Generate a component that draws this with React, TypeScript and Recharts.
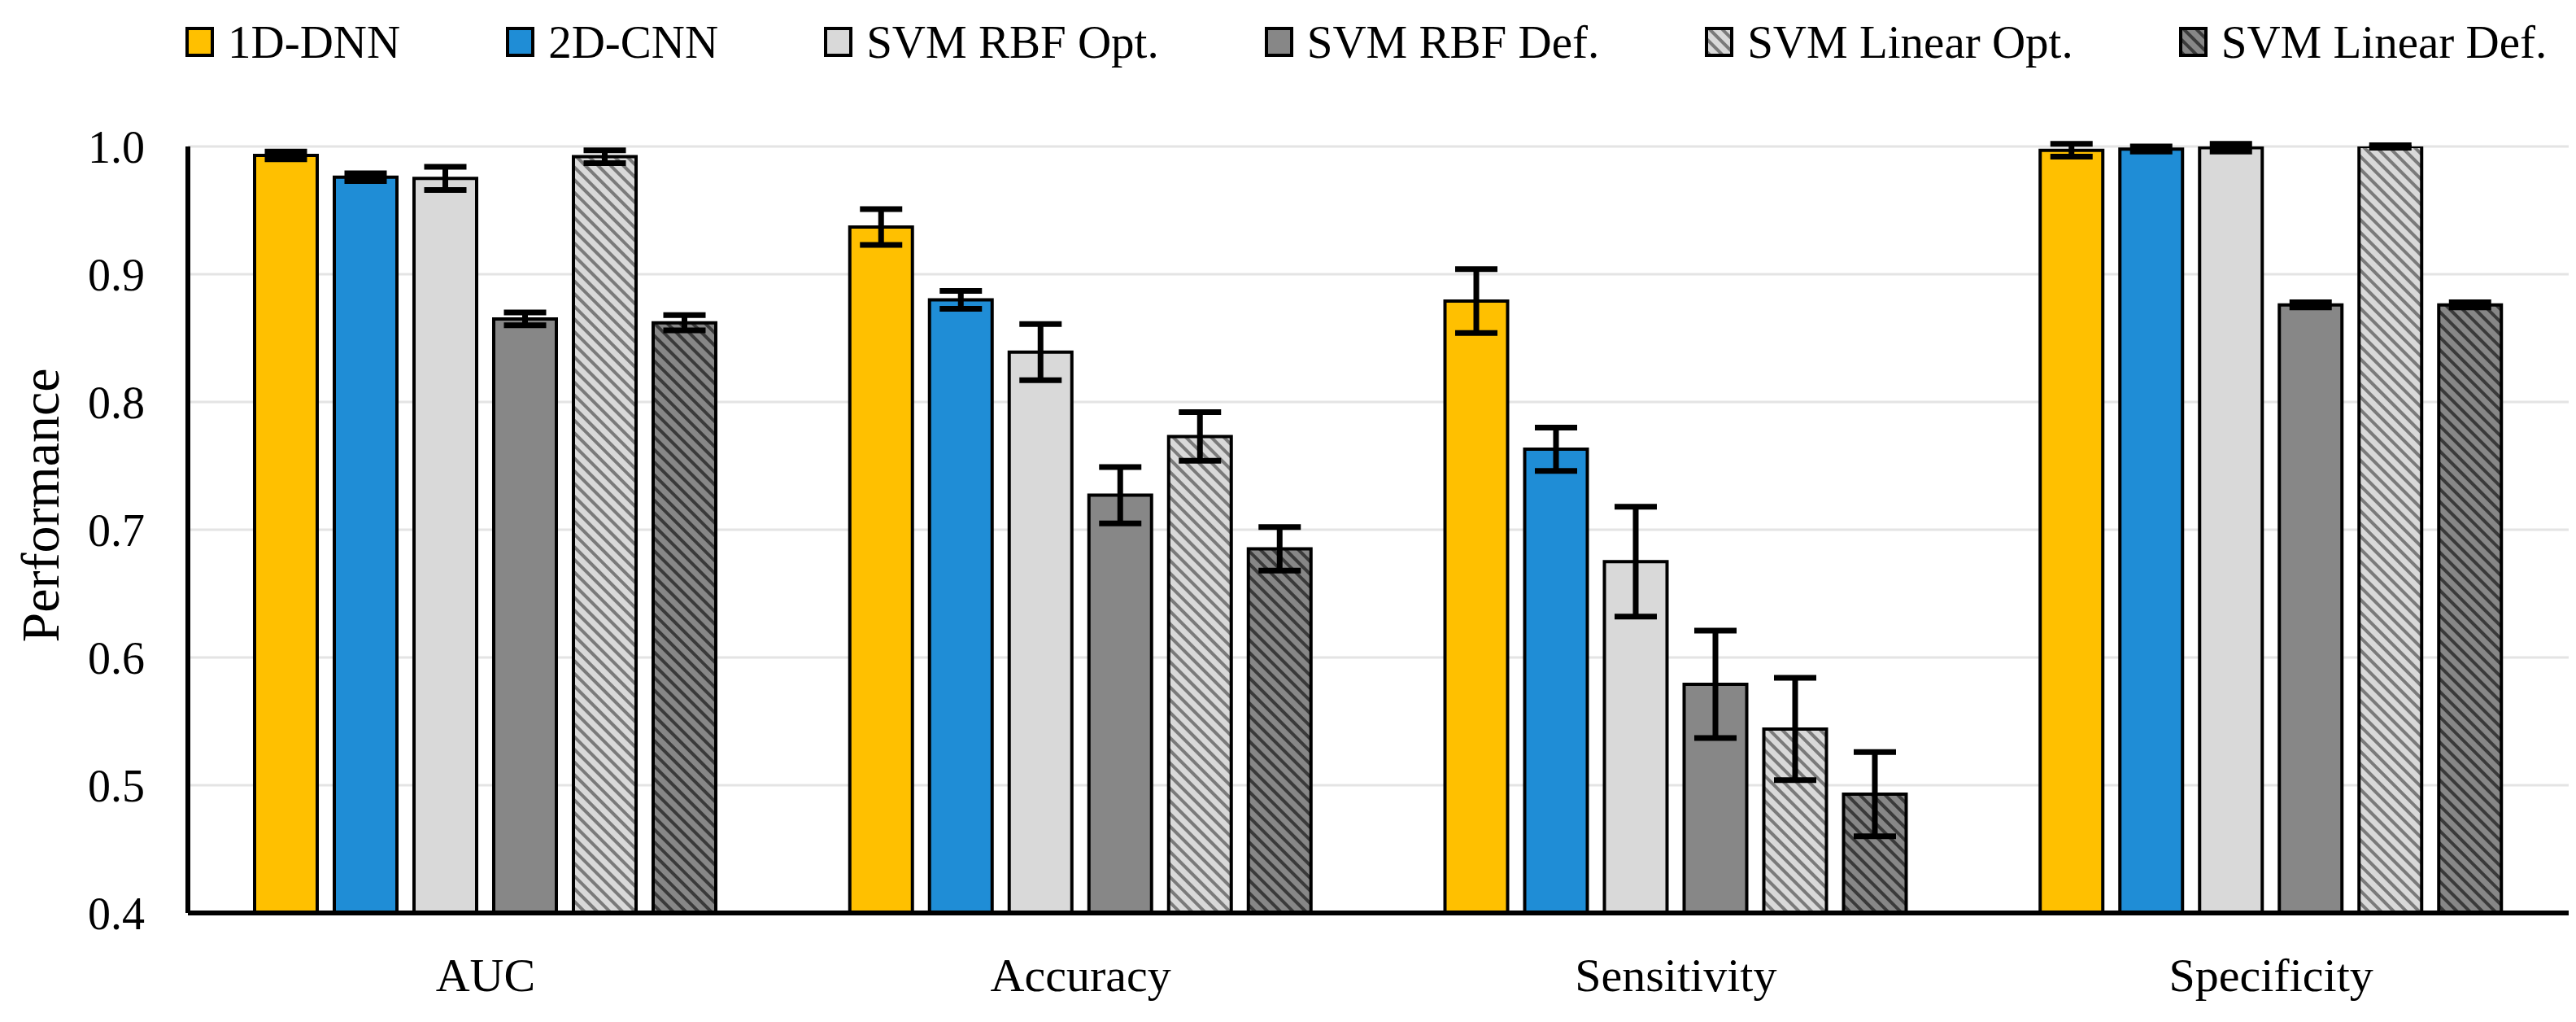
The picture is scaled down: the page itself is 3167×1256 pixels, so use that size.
import React from 'react';
import { BarChart, Bar, XAxis, YAxis, CartesianGrid, ErrorBar, Legend } from 'recharts';

const categories = ['AUC', 'Accuracy', 'Sensitivity', 'Specificity'];
const seriesNames = ['1D-DNN', '2D-CNN', 'SVM RBF Opt.', 'SVM RBF Def.', 'SVM Linear Opt.', 'SVM Linear Def.'];

const dnn = [0.993, 0.937, 0.879, 0.997];
const dnnErr = [0.003, 0.014, 0.025, 0.005];
const cnn = [0.976, 0.880, 0.763, 0.998];
const cnnErr = [0.003, 0.007, 0.017, 0.002];
const rbfOpt = [0.975, 0.839, 0.675, 0.999];
const rbfOptErr = [0.009, 0.022, 0.043, 0.003];
const rbfDef = [0.865, 0.727, 0.579, 0.876];
const rbfDefErr = [0.005, 0.022, 0.042, 0.002];
const linOpt = [0.992, 0.773, 0.544, 1.0];
const linOptErr = [0.005, 0.019, 0.040, 0.001];
const linDef = [0.862, 0.685, 0.493, 0.876];
const linDefErr = [0.006, 0.017, 0.033, 0.002];

const yTicks = [0.4, 0.5, 0.6, 0.7, 0.8, 0.9, 1.0];

const values = [dnn, cnn, rbfOpt, rbfDef, linOpt, linDef];
const errors = [dnnErr, cnnErr, rbfOptErr, rbfDefErr, linOptErr, linDefErr];
const keys = ['dnn', 'cnn', 'rbfOpt', 'rbfDef', 'linOpt', 'linDef'];
const fills = ['#FFC000', '#1F8DD6', '#D9D9D9', '#878787', 'url(#hatchLight)', 'url(#hatchDark)'];

const data = categories.map((c, i) => {
  const row: any = { category: c };
  keys.forEach((k, s) => {
    row[k] = values[s][i];
    row[k + 'Err'] = errors[s][i];
  });
  return row;
});

const FONT = '"Liberation Serif", "Times New Roman", serif';

const LegendContent = () => (
  <div style={{ display: 'flex', alignItems: 'center', gap: 130, fontFamily: FONT, fontSize: 57, color: '#000', whiteSpace: 'nowrap' }}>
    {seriesNames.map((n, i) => (
      <div key={n} style={{ display: 'flex', alignItems: 'center', height: 60 }}>
        <svg width={35} height={37} style={{ marginRight: 17, display: 'block' }}>
          <rect x={2} y={2} width={31} height={33} fill={fills[i]} stroke="#000" strokeWidth={4} />
        </svg>
        <span>{n}</span>
      </div>
    ))}
  </div>
);

export default function App() {
  return (
    <div style={{ width: 3151, height: 1240, background: '#fff' }}>
      <BarChart
        width={3151}
        height={1240}
        data={data}
        margin={{ top: 172, right: 1, bottom: 26, left: 0 }}
        barSize={77}
        barGap={21}
      >
        <defs>
          <pattern id="hatchLight" patternUnits="userSpaceOnUse" width={11} height={11} patternTransform="rotate(-45)">
            <rect x={0} y={0} width={11} height={11} fill="#D9D9D9" />
            <rect x={0} y={0} width={4} height={11} fill="#7A7A7A" />
          </pattern>
          <pattern id="hatchDark" patternUnits="userSpaceOnUse" width={11} height={11} patternTransform="rotate(-45)">
            <rect x={0} y={0} width={11} height={11} fill="#878787" />
            <rect x={0} y={0} width={4} height={11} fill="#3A3A3A" />
          </pattern>
        </defs>
        <CartesianGrid vertical={false} stroke="#E4E4E4" strokeWidth={3} />
        <XAxis
          dataKey="category"
          height={100}
          tickLine={false}
          tickSize={0}
          tickMargin={55}
          axisLine={{ stroke: '#000', strokeWidth: 6 }}
          tick={{ fontFamily: FONT, fontSize: 58, fill: '#000' }}
        />
        <YAxis
          type="number"
          domain={[0.4, 1.0]}
          ticks={yTicks}
          allowDataOverflow
          width={223}
          tickLine={false}
          tickSize={0}
          tickMargin={53}
          tickFormatter={(v: number) => v.toFixed(1)}
          axisLine={{ stroke: '#000', strokeWidth: 6 }}
          tick={{ fontFamily: FONT, fontSize: 56, fill: '#000' }}
          label={{
            content: () => (
              <text x={64} y={613} transform="rotate(-90, 64, 613)" textAnchor="middle" fontFamily={FONT} fontSize={66} fill="#000">
                Performance
              </text>
            ),
          }}
        />
        <Legend
          verticalAlign="middle"
          align="center"
          layout="horizontal"
          content={<LegendContent />}
          wrapperStyle={{ top: 13, left: 220, width: 2920, height: 60 }}
        />
        {keys.map((k, i) => (
          <Bar key={k} dataKey={k} name={seriesNames[i]} fill={fills[i]} stroke="#000" strokeWidth={4} isAnimationActive={false}>
            <ErrorBar dataKey={k + 'Err'} direction="y" width={26} strokeWidth={7} stroke="#000" />
          </Bar>
        ))}
      </BarChart>
    </div>
  );
}
